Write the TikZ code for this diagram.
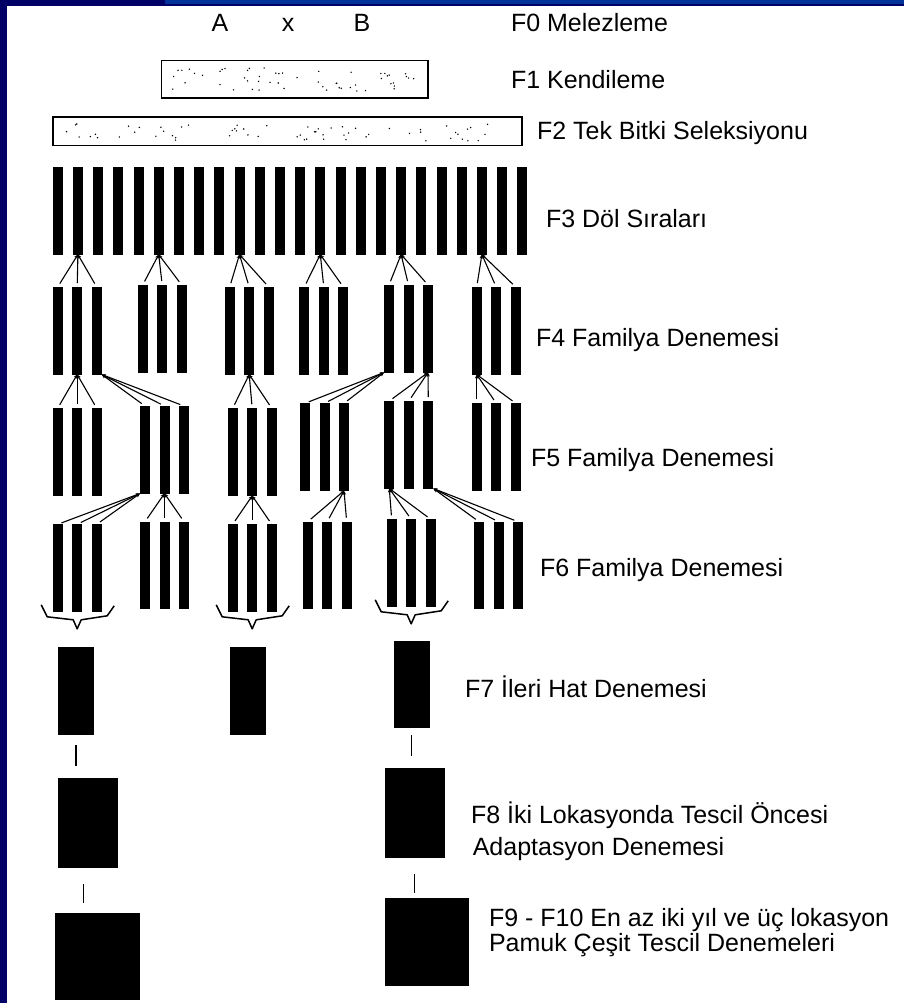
\documentclass[tikz,border=0pt]{standalone}
\usepackage{fontspec}
\setmainfont{Liberation Sans}
\usetikzlibrary{arrows.meta}

\begin{document}
\begin{tikzpicture}[x=1pt, y=-1pt, >={Stealth[length=4pt, width=3.5pt]},
      every node/.style={inner sep=0pt, outer sep=0pt},
      bar/.style={fill=black, minimum width=10pt, minimum height=87.5pt, anchor=north west},
      block/.style={fill=black, anchor=north west},
      seedbox/.style={draw=black, line width=1.6pt, fill=white, anchor=north west},
      gentext/.style={anchor=base west, font=\fontsize{25}{30}\selectfont},
      link/.style={->, line width=1.1pt, shorten <=4pt},
      tie/.style={line width=1.5pt}]
      \definecolor{framenavy}{RGB}{0,0,102} \definecolor{topblue}{RGB}{0,51,153}
      \useasboundingbox (0,0) rectangle (904,1003);
      % frame
      \fill[framenavy] (0,0) rectangle (904,6);
      \fill[topblue] (165,0) rectangle (904,4);
      \fill[framenavy] (0,0) rectangle (7,1003);
      % F0 - F2
      \node[gentext] (pa) at (211.5,31.7) {A};
      \node[gentext] (px) at (281.9,31.7) {x};
      \node[gentext] (pb) at (353.6,31.7) {B};
      \node[seedbox, minimum width=266.4pt, minimum height=37.6pt] (f1box) at (161.4,60.7) {};
      \node[seedbox, minimum width=468.8pt, minimum height=28.4pt] (f2box) at (53,117.3) {};
      \pgfmathsetseed{4711}
      \foreach \i in {1,...,55}
        \fill ({172+rnd*242}, {68+rnd*23}) circle (0.8pt);
      \foreach \i in {1,...,62}
        \fill ({62+rnd*452}, {123+rnd*18}) circle (0.8pt);
      % F3 - F6 bars
      \foreach \i in {1,...,24}
        \node[bar] (f3-\i) at ({52.7+20.2*(\i-1)}, 167) {};
      \foreach \g/\x/\t in {1/52.7/287, 2/137.7/285, 3/224.7/287, 4/299.3/287, 5/384/285, 6/471.7/287}
        \foreach \k in {1,2,3}
          \node[bar] (f4-\g-\k) at ({\x+19.5*(\k-1)}, \t) {};
      \foreach \g/\x/\t in {1/52.7/408.3, 2/140/406, 3/227.7/408.3, 4/300/403.3, 5/384.3/401, 6/471.7/403.3}
        \foreach \k in {1,2,3}
          \node[bar] (f5-\g-\k) at ({\x+19.5*(\k-1)}, \t) {};
      \foreach \g/\x/\t in {1/52.7/524.3, 2/140/521.7, 3/227.7/524.3, 4/302.7/521.7, 5/386.7/519.3, 6/474/521.7}
        \foreach \k in {1,2,3}
          \node[bar] (f6-\g-\k) at ({\x+19.5*(\k-1)}, \t) {};
      % selections
      \foreach \g/\p in {1/2, 2/6, 3/10, 4/14, 5/18, 6/22}
        \foreach \k in {1,2,3}
          \draw[link] (f4-\g-\k.north) -- (f3-\p.south);
      \foreach \g/\p in {1/f4-1-2.south, 2/f4-1-3.south east, 3/f4-3-2.south, 4/f4-5-1.south west, 5/f4-5-3.south, 6/f4-6-1.south}
        \foreach \k in {1,2,3}
          \draw[link] (f5-\g-\k.north) -- (\p);
      \foreach \g/\p in {1/f5-2-1.south west, 2/f5-2-2.south, 3/f5-3-2.south, 4/f5-4-3.south, 5/f5-5-1.south, 6/f5-5-3.south east}
        \foreach \k in {1,2,3}
          \draw[link] (f6-\g-\k.north) -- (\p);
      % braces
      \foreach \g in {1,3,5}
        \draw[tie, line join=round] ([shift={(-36,-7)}]f6-\g-2.south) -- ++(6,12) -- ++(26,3) -- ++(4,9)
          -- ++(4,-9) -- ++(26,-4) -- ++(7,-10);
      % F7 - F9
      \node[block, minimum width=36.3pt, minimum height=87.7pt] (f7-1) at (57.7,647.3) {};
      \node[block, minimum width=36.3pt, minimum height=87.7pt] (f7-2) at (229.5,647.3) {};
      \node[block, minimum width=35.7pt, minimum height=87pt] (f7-3) at (393.8,640.7) {};
      \node[block, minimum width=60.5pt, minimum height=90pt] (f8-1) at (57.7,777.7) {};
      \node[block, minimum width=60pt, minimum height=90.6pt] (f8-2) at (384.5,767.7) {};
      \node[block, minimum width=85.3pt, minimum height=87.3pt] (f9-1) at (54.8,912.7) {};
      \node[block, minimum width=84.2pt, minimum height=87.7pt] (f9-2) at (384.5,898.3) {};
      \draw[tie, shorten <=10pt, shorten >=12pt] (f7-1.south) -- (f7-1.south |- f8-1.north);
      \draw[tie, shorten <=16.6pt, shorten >=9.4pt] ([xshift=-4.4pt]f8-1.south) -- ([xshift=-4.4pt]f8-1.south |- f9-1.north);
      \draw[tie, shorten <=7.3pt, shorten >=11.7pt] (f7-3.south) -- (f7-3.south |- f8-2.north);
      \draw[tie, shorten <=16pt, shorten >=5.6pt] (f8-2.south) -- (f8-2.south |- f9-2.north);
      % generation labels
      \node[gentext] (l0) at (511,31.7) {F0 Melezleme};
      \node[gentext] (l1) at (511,88.3) {F1 Kendileme};
      \node[gentext] (l2) at (537,140) {F2 Tek Bitki Seleksiyonu};
      \node[gentext] (l3) at (546,227) {F3 Döl Sıraları};
      \node[gentext] (l4) at (536,346.7) {F4 Familya Denemesi};
      \node[gentext] (l5) at (531,466.7) {F5 Familya Denemesi};
      \node[gentext] (l6) at (540,576.7) {F6 Familya Denemesi};
      \node[gentext] (l7) at (465,697.3) {F7 İleri Hat Denemesi};
      \node[gentext] (l8a) at (471,823.3) {F8 İki Lokasyonda Tescil Öncesi};
      \node[gentext] (l8b) at (472.8,855) {Adaptasyon Denemesi};
      \node[gentext] (l9a) at (489,926) {F9 - F10 En az iki yıl ve üç lokasyon};
      \node[gentext] (l9b) at (489,951.7) {Pamuk Çeşit Tescil Denemeleri};
    \end{tikzpicture}
\end{document}
